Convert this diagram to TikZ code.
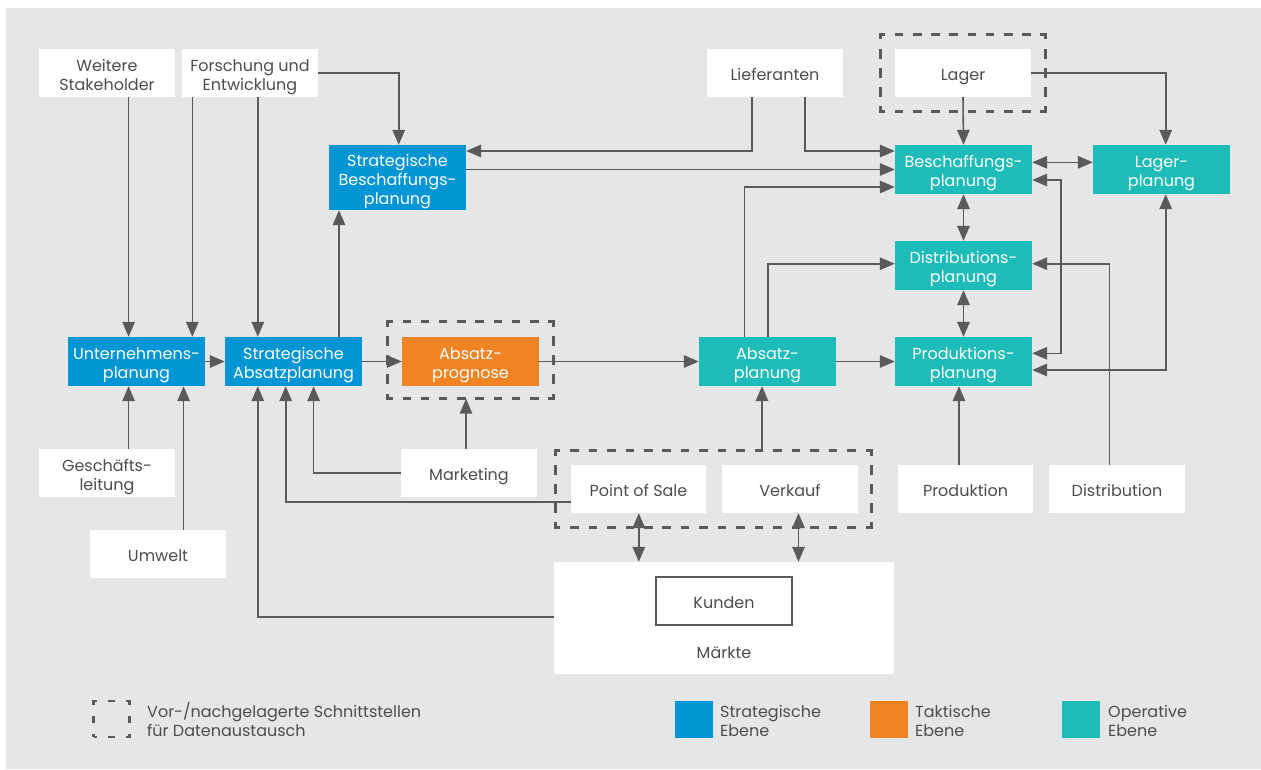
\documentclass[tikz,border=0pt]{standalone}
\usepackage{fontspec}
\setmainfont{Poppins}
\usetikzlibrary{arrows.meta}
\definecolor{bgcol}{HTML}{E5E6E8}
\definecolor{cblue}{HTML}{0096D6}
\definecolor{corange}{HTML}{F28322}
\definecolor{cteal}{HTML}{1EBCB8}
\definecolor{lncol}{HTML}{5A5A5C}
\definecolor{txtcol}{HTML}{4D4D4F}
% line strut: keeps every text line the same height, whatever its letters
\newcommand\ls{\rule[-4.5pt]{0pt}{24pt}}
% node font: fixed 19pt line pitch, never widened by tall or deep letters
\newcommand\nodefont{\fontsize{16}{19}\selectfont\lineskiplimit=-100pt\relax}
\begin{document}
\begin{tikzpicture}[x=1pt,y=-1pt,
  every node/.style={font=\nodefont, align=center, inner sep=0pt, text=txtcol},
  wbox/.style={fill=white, minimum width=136pt, minimum height=48pt},
  pbox/.style={text=white, minimum width=137pt, minimum height=49pt},
  sbox/.style={pbox, fill=cblue},
  tbox/.style={pbox, fill=corange},
  obox/.style={pbox, fill=cteal},
  % one side of a dashed interface frame: short corner stubs, dashes between
  hside/.style={draw=lncol, line width=3pt, line cap=rect, dash pattern=on 5.5pt off #1, dash phase=2pt},
  vside/.style={draw=lncol, line width=3pt, line cap=rect, dash pattern=on 7pt off #1, dash phase=3.5pt},
  tip/.tip={Triangle[length=15pt,width=12.5pt]},
  conn/.style={draw=lncol, line width=1.6pt},
  arr/.style={conn, -tip},
  darr/.style={conn, tip-tip},
  legtext/.style={anchor=west, align=left}
]
\useasboundingbox (0,0) rectangle (1261,769);
\fill[white] (0,0) rectangle (1261,769);
\fill[bgcol] (6,8) rectangle (1261,769);

% guide columns and rows for the connectors
\coordinate (gA) at (128.6,0);
\coordinate (gB) at (192.3,0);
\coordinate (gC) at (183.6,0);
\coordinate (gD) at (257.8,0);
\coordinate (gE) at (339,0);
\coordinate (gF) at (398.7,0);
\coordinate (gG) at (285.7,0);
\coordinate (gH) at (313.6,0);
\coordinate (gI) at (466,0);
\coordinate (gJ) at (751.7,0);
\coordinate (gK) at (805,0);
\coordinate (gL) at (744.3,0);
\coordinate (gM) at (767.7,0);
\coordinate (gN) at (762,0);
\coordinate (gO) at (1060.7,0);
\coordinate (gP) at (1109.5,0);
\coordinate (gQ) at (1165.7,0);
\coordinate (gS) at (959,0);
\coordinate (gT) at (638.8,0);
\coordinate (gU) at (798.5,0);
\coordinate (hL) at (0,151);
\coordinate (hB) at (0,187);
\coordinate (hD) at (0,263.7);
\coordinate (hBL) at (0,162.3);
\coordinate (hBP) at (0,180);
\coordinate (hPB) at (0,353.3);
\coordinate (hPL) at (0,370);
\coordinate (hP) at (0,502);
\coordinate (hM) at (0,616.7);

% interface groups (dashed frames)
\node[minimum width=165pt, minimum height=77pt] (lagergrp) at (963,73) {};
\node[minimum width=165.5pt, minimum height=76.5pt] (aprgrp) at (470.75,360.25) {};
\node[minimum width=315.6pt, minimum height=76.4pt] (posgrp) at (713.1,489) {};
\foreach \g/\hoff in {lagergrp/12.67pt, aprgrp/12.72pt, posgrp/12.98pt} {
  \draw[hside=\hoff] (\g.north west) -- (\g.north east);
  \draw[hside=\hoff] (\g.south west) -- (\g.south east);
  \draw[vside=12.2pt] (\g.north west) -- (\g.south west);
  \draw[vside=12.2pt] (\g.north east) -- (\g.south east);
}

% external boxes
\node[wbox] (ws) at (107,73) {\ls Weitere\\\ls Stakeholder};
\node[wbox] (fe) at (250,73) {\ls Forschung und\\\ls Entwicklung};
\node[wbox] (lief) at (775,73) {\ls Lieferanten};
\node[wbox] (lager) at (963,73) {\ls Lager};
\node[wbox] (gl) at (107,473) {\ls Geschäfts-\\\ls leitung};
\node[wbox] (umw) at (158,554) {\ls Umwelt};
\node[wbox] (mkt) at (469,473) {\ls Marketing};
\node[wbox, minimum width=135pt] (pos) at (638.5,489) {\ls Point of Sale};
\node[wbox] (verk) at (790,489) {\ls Verkauf};
\node[wbox, minimum width=135pt] (prod) at (965.5,489) {\ls Produktion};
\node[wbox] (dist) at (1117,489) {\ls Distribution};
\node[fill=white, minimum width=340pt, minimum height=112pt] (maerkte) at (724,618) {};
\node[fill=white, draw=lncol, line width=1.2pt, minimum width=136pt, minimum height=48pt] (kunden) at (724,601) {\ls Kunden};
\node (maerktelbl) at (724,651.3) {\ls Märkte};

% planning levels
\node[sbox, minimum height=65pt] (sbp) at (397.5,177.5) {\ls Strategische\\\ls Beschaffungs-\\\ls planung};
\node[sbox] (unp) at (136.5,361.5) {\ls Unternehmens-\\\ls planung};
\node[sbox] (sap) at (293.5,361.5) {\ls Strategische\\\ls Absatzplanung};
\node[tbox] (aprog) at (470.5,361.5) {\ls Absatz-\\\ls prognose};
\node[obox] (absplan) at (767.5,361.5) {\ls Absatz-\\\ls planung};
\node[obox] (besch) at (963.5,169.5) {\ls Beschaffungs-\\\ls planung};
\node[obox] (lagerpl) at (1161.5,169.5) {\ls Lager-\\\ls planung};
\node[obox] (distpl) at (963.5,265.5) {\ls Distributions-\\\ls planung};
\node[obox] (prodpl) at (963.5,361.5) {\ls Produktions-\\\ls planung};

% connectors, left part
\draw[arr] (ws.south -| gA) -- (unp.north -| gA);
\draw[arr] (fe.south -| gB) -- (unp.north -| gB);
\draw[arr] (fe.south -| gD) -- (sap.north -| gD);
\draw[arr] (fe.east) -| (sbp.north -| gF);
\draw[arr] (sap.north -| gE) -- (sbp.south -| gE);
\draw[arr] (gl.north -| gA) -- (unp.south -| gA);
\draw[arr] (umw.north -| gC) -- (unp.south -| gC);
\draw[arr] (unp.east) -- (sap.west);
\draw[arr] (sap.east) -- (aprog.west);
\draw[arr] (mkt.west) -| (sap.south -| gH);
\draw[arr] (pos.west |- hP) -| (sap.south -| gG);
\draw[arr] (maerkte.west |- hM) -| (sap.south -| gD);
\draw[arr] (mkt.north -| gI) -- (aprgrp.south -| gI);

% connectors, middle part
\draw[arr] (aprog.east) -- (absplan.west);
\draw[arr] (absplan.east) -- (prodpl.west);
\draw[arr] (lief.south -| gJ) |- (sbp.east |- hL);
\draw[arr] (lief.south -| gK) |- (besch.west |- hL);
\draw[arr] (sbp.east |- besch.west) -- (besch.west);
\draw[arr] (absplan.north -| gL) |- (besch.west |- hB);
\draw[arr] (absplan.north -| gM) |- (distpl.west |- hD);
\draw[arr] (posgrp.north -| gN) -- (absplan.south -| gN);
\draw[darr] (pos.south -| gT) -- (maerkte.north -| gT);
\draw[darr] (verk.south -| gU) -- (maerkte.north -| gU);

% connectors, right part
\draw[arr] (lager.south) -- (besch.north);
\draw[arr] (lager.east) -| (lagerpl.north -| gQ);
\draw[darr] (besch.south) -- (distpl.north);
\draw[darr] (distpl.south) -- (prodpl.north);
\draw[darr] (besch.east |- hBL) -- (lagerpl.west |- hBL);
\draw[darr] (besch.east |- hBP) -| (gO |- hPB) -- (prodpl.east |- hPB);
\draw[darr] (prodpl.east |- hPL) -| (lagerpl.south -| gQ);
\draw[arr] (dist.north -| gP) |- (distpl.east |- hD);
\draw[arr] (prod.north -| gS) -- (prodpl.south -| gS);

% legend
\node[draw=lncol, line width=2.5pt, dash pattern=on 7pt off 11pt, dash phase=3.5pt, minimum width=36pt, minimum height=36pt] (lgdash) at (111.5,719) {};
\node[legtext] (lgdashtxt) at (147,719.5) {\ls Vor-/nachgelagerte Schnittstellen\\\ls für Datenaustausch};
\node[fill=cblue, minimum width=37.5pt, minimum height=37pt] (lgblue) at (694,719) {};
\node[legtext] (lgbluetxt) at (720,719.5) {\ls Strategische\\\ls Ebene};
\node[fill=corange, minimum width=38pt, minimum height=37pt] (lgorange) at (888.6,719) {};
\node[legtext] (lgorangetxt) at (915,719.5) {\ls Taktische\\\ls Ebene};
\node[fill=cteal, minimum width=38.5pt, minimum height=37pt] (lgteal) at (1080.8,719) {};
\node[legtext] (lgtealtxt) at (1108,719.5) {\ls Operative\\\ls Ebene};
\end{tikzpicture}
\end{document}
